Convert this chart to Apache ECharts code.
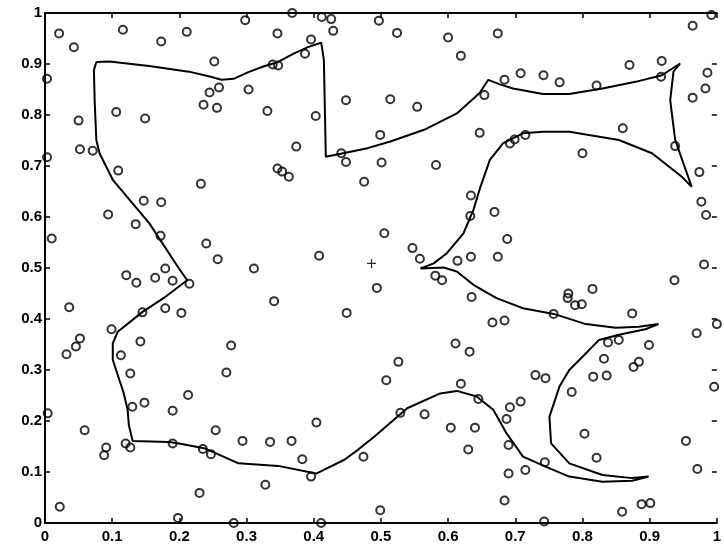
<!DOCTYPE html>
<html>
<head>
<meta charset="utf-8">
<title>Sample points and decision boundary</title>
<script src="https://cdn.jsdelivr.net/npm/echarts@6/dist/echarts.min.js"></script>
<style>
  html, body { margin: 0; padding: 0; background: #fff; }
  #chart { width: 724px; height: 551px; }
</style>
</head>
<body>
<div id="chart"></div>
<script>
// Axis ticks (both axes run 0..1 in steps of 0.1)
const xTicks = [0, 0.1, 0.2, 0.3, 0.4, 0.5, 0.6, 0.7, 0.8, 0.9, 1];
const yTicks = [0, 0.1, 0.2, 0.3, 0.4, 0.5, 0.6, 0.7, 0.8, 0.9, 1];

// Sample locations, drawn as open circles
const samplePoints = [
  [0.021, 0.960], [0.116, 0.967], [0.043, 0.933], [0.173, 0.944], [0.211, 0.963],
  [0.003, 0.871], [0.003, 0.717], [0.106, 0.806], [0.149, 0.793], [0.050, 0.789],
  [0.052, 0.733], [0.071, 0.730], [0.109, 0.691], [0.298, 0.986], [0.368, 1.000],
  [0.412, 0.992], [0.426, 0.988], [0.346, 0.960], [0.429, 0.965], [0.396, 0.948],
  [0.387, 0.920], [0.252, 0.905], [0.339, 0.899], [0.347, 0.897], [0.259, 0.854],
  [0.245, 0.844], [0.303, 0.850], [0.236, 0.820], [0.256, 0.814], [0.331, 0.808],
  [0.448, 0.829], [0.403, 0.798], [0.374, 0.738], [0.441, 0.725], [0.448, 0.708],
  [0.346, 0.695], [0.353, 0.689], [0.363, 0.679], [0.232, 0.665], [0.475, 0.669],
  [0.497, 0.985], [0.524, 0.961], [0.600, 0.952], [0.674, 0.960], [0.619, 0.916],
  [0.514, 0.831], [0.554, 0.816], [0.654, 0.839], [0.684, 0.869], [0.708, 0.882],
  [0.742, 0.878], [0.499, 0.761], [0.647, 0.765], [0.692, 0.744], [0.699, 0.752],
  [0.715, 0.761], [0.501, 0.707], [0.582, 0.702], [0.992, 0.996], [0.964, 0.975],
  [0.766, 0.864], [0.870, 0.898], [0.918, 0.906], [0.821, 0.858], [0.917, 0.875],
  [0.986, 0.883], [0.983, 0.852], [0.964, 0.834], [0.860, 0.774], [0.800, 0.725],
  [0.938, 0.739], [0.974, 0.688], [0.010, 0.558], [0.094, 0.605], [0.147, 0.632],
  [0.173, 0.629], [0.135, 0.586], [0.172, 0.563], [0.121, 0.486], [0.136, 0.471],
  [0.164, 0.481], [0.179, 0.499], [0.190, 0.475], [0.215, 0.469], [0.036, 0.423],
  [0.145, 0.413], [0.179, 0.421], [0.203, 0.412], [0.099, 0.380], [0.142, 0.356],
  [0.052, 0.362], [0.046, 0.346], [0.032, 0.331], [0.113, 0.329], [0.240, 0.548],
  [0.257, 0.517], [0.311, 0.499], [0.408, 0.524], [0.341, 0.435], [0.449, 0.412],
  [0.277, 0.348], [0.634, 0.642], [0.633, 0.602], [0.669, 0.610], [0.505, 0.568],
  [0.688, 0.557], [0.547, 0.539], [0.558, 0.518], [0.614, 0.514], [0.634, 0.522],
  [0.674, 0.522], [0.581, 0.485], [0.591, 0.476], [0.494, 0.461], [0.635, 0.443],
  [0.666, 0.393], [0.684, 0.397], [0.611, 0.352], [0.632, 0.336], [0.526, 0.316],
  [0.977, 0.630], [0.984, 0.604], [0.981, 0.507], [0.937, 0.476], [0.815, 0.459],
  [0.779, 0.450], [0.778, 0.441], [0.789, 0.427], [0.799, 0.429], [0.757, 0.410],
  [0.874, 0.411], [1.000, 0.390], [0.970, 0.372], [0.838, 0.354], [0.854, 0.359],
  [0.899, 0.349], [0.832, 0.322], [0.884, 0.316], [0.876, 0.306], [0.127, 0.293],
  [0.130, 0.228], [0.148, 0.236], [0.190, 0.220], [0.213, 0.251], [0.004, 0.215],
  [0.059, 0.182], [0.091, 0.148], [0.088, 0.133], [0.120, 0.156], [0.127, 0.148],
  [0.190, 0.156], [0.022, 0.032], [0.198, 0.010], [0.270, 0.295], [0.404, 0.197],
  [0.254, 0.182], [0.294, 0.161], [0.335, 0.159], [0.367, 0.161], [0.235, 0.145],
  [0.247, 0.135], [0.383, 0.125], [0.396, 0.091], [0.328, 0.075], [0.230, 0.059],
  [0.281, 0.000], [0.411, 0.000], [0.474, 0.130], [0.508, 0.280], [0.619, 0.273],
  [0.645, 0.243], [0.529, 0.216], [0.565, 0.213], [0.604, 0.187], [0.640, 0.187],
  [0.630, 0.144], [0.692, 0.227], [0.708, 0.238], [0.687, 0.204], [0.730, 0.290],
  [0.745, 0.284], [0.690, 0.153], [0.690, 0.097], [0.715, 0.104], [0.744, 0.119],
  [0.684, 0.044], [0.499, 0.025], [0.743, 0.003], [0.816, 0.287], [0.836, 0.289],
  [0.784, 0.257], [0.996, 0.267], [0.803, 0.175], [0.821, 0.128], [0.954, 0.161],
  [0.971, 0.106], [0.888, 0.037], [0.901, 0.039], [0.859, 0.022]
];

// Closed boundary curve, traced clockwise from the upper-left corner
const boundaryCurve = [
  [0.0764, 0.904], [0.0960, 0.905], [0.1551, 0.896], [0.2142, 0.885], [0.2437, 0.876],
  [0.2629, 0.869], [0.2806, 0.871], [0.3028, 0.884], [0.3250, 0.895], [0.3471, 0.904],
  [0.3693, 0.920], [0.3914, 0.933], [0.4111, 0.942], [0.4151, 0.908], [0.4180, 0.718],
  [0.4402, 0.724], [0.4801, 0.735], [0.5140, 0.748], [0.5643, 0.771], [0.6130, 0.803],
  [0.6470, 0.843], [0.6598, 0.869], [0.6770, 0.860], [0.6967, 0.852], [0.7411, 0.841],
  [0.7804, 0.841], [0.8297, 0.852], [0.8789, 0.865], [0.9183, 0.878], [0.9453, 0.901],
  [0.9355, 0.885], [0.9306, 0.829], [0.9380, 0.751], [0.9626, 0.659], [0.9479, 0.679],
  [0.9035, 0.725], [0.8542, 0.751], [0.7804, 0.767], [0.7411, 0.767], [0.7115, 0.764],
  [0.6820, 0.745], [0.6622, 0.712], [0.6474, 0.656], [0.6377, 0.614], [0.6229, 0.568],
  [0.5982, 0.529], [0.5786, 0.509], [0.5588, 0.499], [0.5933, 0.501], [0.6130, 0.493],
  [0.6377, 0.467], [0.6721, 0.441], [0.7115, 0.421], [0.7573, 0.410], [0.8050, 0.390],
  [0.8493, 0.383], [0.8838, 0.385], [0.9133, 0.390], [0.8936, 0.380], [0.8542, 0.369],
  [0.8247, 0.359], [0.8001, 0.326], [0.7804, 0.300], [0.7656, 0.267], [0.7508, 0.208],
  [0.7533, 0.156], [0.7804, 0.117], [0.8297, 0.094], [0.8740, 0.088], [0.8985, 0.091],
  [0.8740, 0.083], [0.8297, 0.081], [0.7804, 0.091], [0.7459, 0.110], [0.7115, 0.130],
  [0.6869, 0.176], [0.6672, 0.222], [0.6425, 0.248], [0.6130, 0.259], [0.5883, 0.254],
  [0.5391, 0.225], [0.4900, 0.169], [0.4653, 0.143], [0.4456, 0.124], [0.4037, 0.097],
  [0.3471, 0.112], [0.2880, 0.117], [0.2388, 0.146], [0.1994, 0.156], [0.1846, 0.159],
  [0.1304, 0.161], [0.1248, 0.192], [0.1230, 0.222], [0.1167, 0.257], [0.1108, 0.280],
  [0.1009, 0.320], [0.1009, 0.352], [0.1083, 0.375], [0.1452, 0.414], [0.1798, 0.444],
  [0.2117, 0.476], [0.1994, 0.499], [0.1551, 0.588], [0.1009, 0.673], [0.0812, 0.725],
  [0.0764, 0.751], [0.0739, 0.829], [0.0728, 0.888], [0.0764, 0.904]
];

// Centre marker
const centreMarker = [[0.486, 0.509]];

const labelFont = {
  color: '#000',
  fontFamily: 'Liberation Sans, Arial, sans-serif',
  fontSize: 15,
  fontWeight: 'bold'
};

function fmt(v) {
  // show ticks as 0, 0.1, ..., 1
  const r = Math.round(v * 10) / 10;
  return xTicks.includes(r) ? String(r) : '';
}

const frameAxis = (pos, withLabels, showLine) => ({
  type: 'value',
  position: pos,
  min: 0,
  max: 1,
  interval: 0.1,
  axisLine: { show: showLine, onZero: false, lineStyle: { color: '#000', width: 2 } },
  axisTick: { show: true, inside: true, length: 5, lineStyle: { color: '#000', width: 1.5 } },
  axisLabel: Object.assign({ show: withLabels, formatter: fmt }, labelFont),
  splitLine: { show: false }
});

const chart = echarts.init(document.getElementById('chart'), null, { renderer: 'canvas' });

const xBottom = frameAxis('bottom', true, true);
xBottom.axisLabel.margin = 6;
const xTop = frameAxis('top', false, true);
const yLeft = frameAxis('left', true, true);
yLeft.axisLabel.margin = 3;
const yRight = frameAxis('right', false, false);

chart.setOption({
  animation: false,
  backgroundColor: '#fff',
  grid: { left: 45, right: 2, top: 13, bottom: 28, containLabel: false },
  xAxis: [xBottom, xTop],
  yAxis: [yLeft, yRight],
  series: [
    {
      type: 'line',
      xAxisIndex: 0,
      yAxisIndex: 0,
      data: boundaryCurve,
      showSymbol: false,
      smooth: false,
      lineStyle: { color: '#000', width: 2 },
      z: 2
    },
    {
      type: 'scatter',
      xAxisIndex: 0,
      yAxisIndex: 0,
      data: samplePoints,
      symbol: 'circle',
      symbolSize: 8,
      clip: false,
      itemStyle: { color: 'rgba(255,255,255,0)', borderColor: '#000', borderWidth: 2 },
      z: 3
    },
    {
      type: 'scatter',
      xAxisIndex: 0,
      yAxisIndex: 0,
      data: centreMarker,
      symbol: 'path://M0,5L10,5M5,0L5,10',
      symbolSize: 9,
      itemStyle: { color: 'none', borderColor: '#000', borderWidth: 1.3 },
      z: 3
    }
  ]
});
</script>
</body>
</html>
